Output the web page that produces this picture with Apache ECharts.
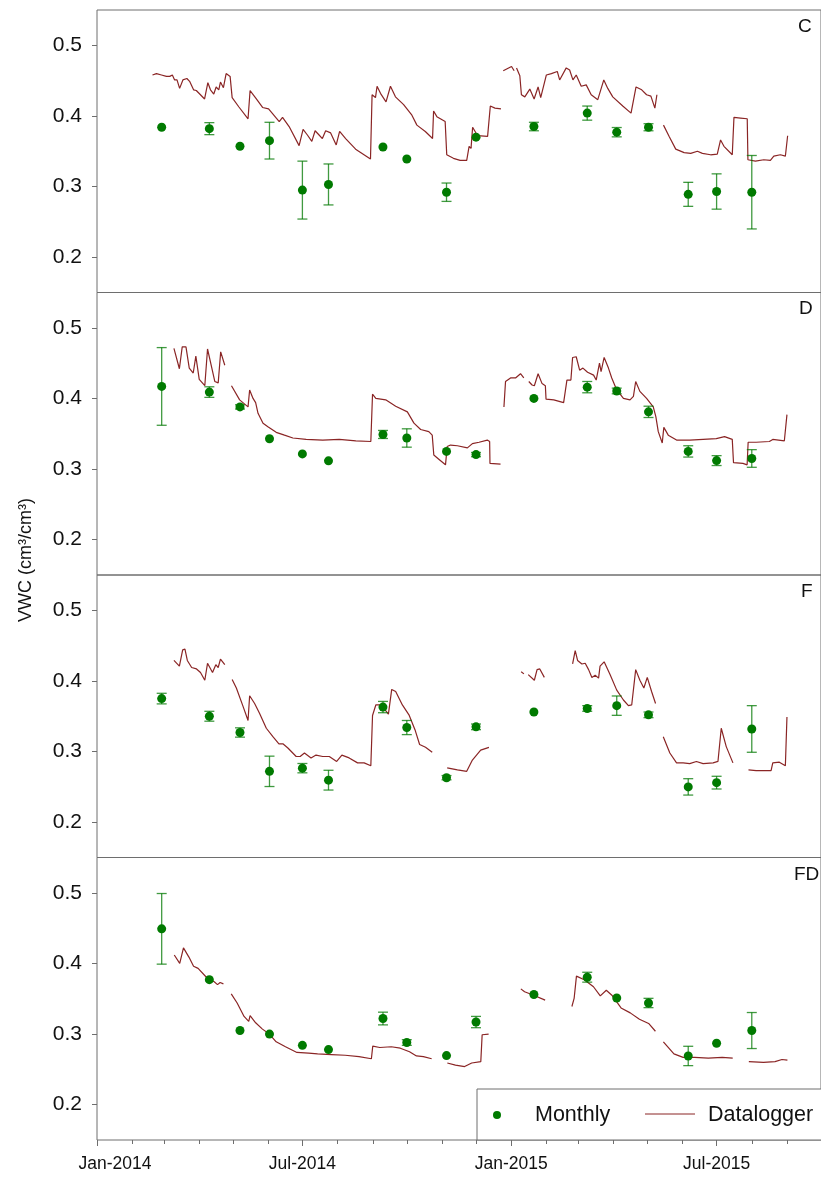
<!DOCTYPE html>
<html>
<head>
<meta charset="utf-8">
<script src="https://cdn.jsdelivr.net/npm/echarts@6/dist/echarts.min.js"></script>
<style>
  html, body { margin: 0; padding: 0; background: #fff; }
  #chart { width: 821px; height: 1182px; }
</style>
</head>
<body>
<div id="chart"></div>
<script>
// ---- Sampling dates of the monthly survey ----
const sampleDates = [
  '2014-02-27', '2014-04-10', '2014-05-07', '2014-06-02', '2014-07-01', '2014-07-24',
  '2014-09-10', '2014-10-01', '2014-11-05', '2014-12-01', '2015-01-21', '2015-03-09',
  '2015-04-04', '2015-05-02', '2015-06-06', '2015-07-01', '2015-08-01'
];

// ---- Monthly VWC means and standard errors per treatment ----
const monthlyC  = [0.384, 0.382, 0.357, 0.365, 0.295, 0.303, 0.356, 0.339, 0.292, 0.370, 0.385, 0.404, 0.377, 0.384, 0.289, 0.293, 0.292];
const errC      = [0, 0.0085, 0, 0.026, 0.041, 0.029, 0, 0, 0.013, 0, 0.006, 0.010, 0.0066, 0.005, 0.017, 0.025, 0.052];
const monthlyD  = [0.417, 0.409, 0.388, 0.343, 0.3215, 0.3116, 0.349, 0.344, 0.325, 0.3205, 0.400, 0.416, 0.4106, 0.381, 0.325, 0.312, 0.315];
const errD      = [0.055, 0.0075, 0.003, 0, 0, 0, 0.0057, 0.013, 0, 0.003, 0, 0.008, 0.004, 0.008, 0.008, 0.007, 0.0125];
const monthlyF  = [0.375, 0.350, 0.327, 0.272, 0.2765, 0.2595, 0.363, 0.334, 0.263, 0.335, 0.356, 0.361, 0.365, 0.352, 0.250, 0.256, 0.332];
const errF      = [0.0075, 0.007, 0.0066, 0.0215, 0.0066, 0.014, 0.008, 0.010, 0.003, 0.004, 0, 0.004, 0.0137, 0.004, 0.0116, 0.009, 0.033];
const monthlyFD = [0.449, 0.377, 0.305, 0.300, 0.284, 0.278, 0.322, 0.288, 0.2695, 0.317, 0.356, 0.3805, 0.351, 0.344, 0.269, 0.287, 0.305];
const errFD     = [0.050, 0, 0, 0, 0, 0, 0.009, 0.004, 0, 0.008, 0, 0.007, 0, 0.0066, 0.0137, 0, 0.0255];

// ---- Datalogger records: [day since 1 Jan 2014, VWC], one array per unbroken run ----
const loggerC = [
  [[48.9,0.458],[52.4,0.460],[56.8,0.458],[61.2,0.456],[64.1,0.456],[66.4,0.458],[68.4,0.451],[70.5,0.451],[72.8,0.439],[75.7,0.451],[79.2,0.453],[81.6,0.449],[85.1,0.437],[87.5,0.436],[94.8,0.424],[97.7,0.447],[100.0,0.437],[102.9,0.431],[105.0,0.441],[107.3,0.437],[108.8,0.448],[111.4,0.440],[113.8,0.460],[117.3,0.456],[119.1,0.426],[124.9,0.413],[133.1,0.396],[134.9,0.436],[140.1,0.425],[145.9,0.412],[151.2,0.410],[152.4,0.409],[160.6,0.392],[163.5,0.398],[169.3,0.385],[178.1,0.358],[179.6,0.358],[181.6,0.381],[185.4,0.373],[189.3,0.364],[192.2,0.379],[195.7,0.373],[198.6,0.368],[201.5,0.379],[205.9,0.376],[210.8,0.359],[213.8,0.378],[219.1,0.368],[227.9,0.353],[241.0,0.339],[242.4,0.430],[245.4,0.426],[246.8,0.442],[249.8,0.432],[254.7,0.420],[258.6,0.442],[263.0,0.427],[270.2,0.416],[277.5,0.401],[281.9,0.387],[289.3,0.378],[295.7,0.368],[296.6,0.407],[299.5,0.399],[306.8,0.392],[308.2,0.345],[314.1,0.340],[320.0,0.337],[325.8,0.337],[327.9,0.357],[329.6,0.354],[331.0,0.384],[335.4,0.372],[344.2,0.371],[346.6,0.414],[350.7,0.411],[356.0,0.410]],
  [[358.0,0.464],[365.3,0.470],[367.6,0.464]],
  [[369.7,0.468],[372.6,0.457],[374.0,0.430],[377.0,0.427],[381.4,0.438],[385.2,0.424],[388.7,0.441],[391.0,0.426],[396.0,0.458],[400.4,0.460],[405.6,0.463],[407.7,0.451],[413.5,0.468],[416.5,0.465],[419.4,0.451],[422.3,0.458],[426.7,0.442],[431.1,0.444],[435.5,0.430],[441.3,0.423],[446.6,0.451],[450.1,0.439],[454.5,0.427],[463.3,0.414],[470.6,0.404],[472.1,0.404],[475.0,0.441],[480.0,0.437],[484.3,0.430],[488.1,0.428],[491.6,0.411],[493.4,0.430]],
  [[499.2,0.387],[504.2,0.371],[510.0,0.353],[517.4,0.348],[523.2,0.347],[529.1,0.350],[533.5,0.347],[540.7,0.345],[546.6,0.346],[549.5,0.366],[552.5,0.357],[559.8,0.345],[561.3,0.398],[567.1,0.397],[573.0,0.396],[573.6,0.338],[580.2,0.336],[587.6,0.338],[593.4,0.337],[596.4,0.343],[602.2,0.345],[606.6,0.343],[608.6,0.372]]
];
const loggerD = [
  [[67.8,0.471],[72.6,0.442],[75.1,0.473],[78.4,0.473],[81.3,0.443],[84.8,0.436],[87.1,0.460],[90.1,0.427],[95.0,0.418],[97.4,0.470],[100.9,0.445],[103.8,0.424],[106.8,0.422],[109.0,0.466],[112.6,0.447]],
  [[118.5,0.418],[125.7,0.398],[133.1,0.388],[134.5,0.412],[137.5,0.400],[139.8,0.394],[141.9,0.379],[146.3,0.365],[150.6,0.360],[157.9,0.352],[165.2,0.348],[172.6,0.344],[184.3,0.342],[198.9,0.341],[213.5,0.342],[228.1,0.340],[241.3,0.339],[242.8,0.406],[245.7,0.400],[254.4,0.398],[263.2,0.389],[273.5,0.381],[279.3,0.365],[285.2,0.356],[292.4,0.353],[295.4,0.348],[296.8,0.320],[301.2,0.314],[307.1,0.306],[308.6,0.332],[311.5,0.334],[317.6,0.333],[326.4,0.330],[330.8,0.336],[336.7,0.338],[343.9,0.341],[346.0,0.339],[346.3,0.308],[355.6,0.307]],
  [[358.6,0.388],[360.0,0.424],[364.4,0.429],[368.8,0.429],[373.2,0.435],[376.1,0.429]],
  [[380.5,0.424],[383.4,0.419],[385.4,0.418],[388.7,0.435],[392.2,0.421],[395.1,0.418],[395.7,0.399],[402.5,0.398],[411.2,0.394],[414.1,0.426],[417.6,0.426],[419.1,0.458],[422.3,0.459],[425.3,0.440],[428.2,0.443],[432.3,0.437],[437.6,0.433],[439.9,0.426],[442.8,0.450],[444.2,0.438],[446.9,0.458],[450.7,0.443],[453.6,0.429],[458.0,0.412],[463.9,0.400],[469.7,0.398],[472.7,0.403],[474.7,0.424],[478.4,0.410],[484.3,0.400],[490.2,0.388],[492.5,0.374],[494.6,0.353],[498.1,0.337],[499.5,0.359],[503.4,0.348],[510.7,0.341],[522.3,0.341],[534.1,0.342],[545.7,0.343],[553.0,0.346],[559.8,0.342],[560.9,0.309],[569.2,0.308],[572.9,0.306],[573.8,0.338],[580.8,0.338],[592.5,0.339],[595.5,0.342],[605.7,0.340],[608.0,0.377]]
];
const loggerF = [
  [[67.8,0.429],[72.6,0.421],[75.5,0.444],[77.5,0.445],[79.6,0.429],[83.4,0.419],[87.7,0.417],[91.2,0.412],[95.0,0.401],[97.4,0.425],[101.8,0.412],[104.7,0.423],[106.8,0.419],[108.8,0.431],[112.6,0.423]],
  [[119.1,0.402],[122.8,0.390],[128.7,0.364],[133.1,0.344],[134.5,0.379],[138.9,0.368],[143.3,0.354],[149.2,0.333],[155.0,0.321],[160.3,0.311],[163.8,0.311],[168.2,0.305],[175.5,0.293],[179.0,0.293],[182.8,0.298],[188.6,0.291],[193.0,0.295],[198.9,0.293],[204.7,0.293],[211.2,0.286],[215.8,0.295],[222.2,0.291],[229.6,0.284],[235.4,0.284],[241.3,0.280],[242.8,0.351],[245.7,0.366],[249.2,0.366],[251.5,0.364],[256.8,0.353],[259.7,0.388],[263.2,0.385],[269.1,0.366],[274.9,0.352],[280.2,0.331],[284.3,0.310],[289.5,0.306],[295.4,0.299]],
  [[308.6,0.277],[317.6,0.274],[325.8,0.272],[330.8,0.288],[338.1,0.302],[345.4,0.306]],
  [[373.8,0.413],[376.2,0.410]],
  [[380.0,0.409],[385.4,0.401],[387.8,0.416],[390.2,0.417],[394.2,0.405]],
  [[419.1,0.424],[421.4,0.443],[423.5,0.429],[427.3,0.424],[430.2,0.425],[433.2,0.416],[436.1,0.405],[439.0,0.408],[442.0,0.404],[443.3,0.421],[446.9,0.427],[452.1,0.409],[458.0,0.387],[463.9,0.373],[468.3,0.365],[471.2,0.366],[474.7,0.416],[478.4,0.401],[481.9,0.390],[484.9,0.405],[488.7,0.385],[492.2,0.368]],
  [[499.0,0.321],[504.8,0.298],[510.7,0.284],[516.5,0.284],[522.3,0.283],[528.2,0.286],[534.1,0.283],[542.9,0.284],[547.2,0.286],[550.1,0.333],[554.5,0.307],[560.4,0.284]],
  [[574.1,0.274],[580.8,0.273],[594.0,0.273],[595.5,0.284],[601.3,0.285],[606.6,0.280],[608.0,0.349]]
];
const loggerFD = [
  [[68.1,0.412],[72.9,0.400],[76.2,0.422],[77.7,0.422],[81.0,0.409],[85.1,0.396],[89.1,0.393],[97.2,0.379],[103.3,0.374],[106.2,0.370],[108.5,0.373],[111.4,0.371]],
  [[118.3,0.357],[123.5,0.344],[129.6,0.325],[133.7,0.318],[134.9,0.326],[139.8,0.316],[145.8,0.307],[151.9,0.300],[157.9,0.289],[166.1,0.282],[176.2,0.274],[186.4,0.273],[194.4,0.272],[206.6,0.271],[218.7,0.270],[230.9,0.268],[241.8,0.265],[243.0,0.283],[249.2,0.281],[259.3,0.282],[267.3,0.280],[275.4,0.275],[281.5,0.269],[287.6,0.268],[294.9,0.265]],
  [[308.7,0.259],[315.9,0.256],[324.0,0.254],[330.2,0.259],[338.2,0.261],[339.4,0.299],[345.1,0.300]],
  [[373.5,0.364],[376.8,0.360],[384.8,0.355],[394.9,0.348]],
  [[418.5,0.339],[420.5,0.351],[422.5,0.382],[429.4,0.377],[437.5,0.367],[443.5,0.354],[448.8,0.362],[453.7,0.355],[461.8,0.337],[469.9,0.330],[478.0,0.321],[486.1,0.315],[492.1,0.304]],
  [[499.1,0.289],[508.4,0.272],[516.5,0.267],[526.6,0.267],[538.7,0.266],[550.9,0.267],[560.2,0.266]],
  [[574.4,0.261],[587.3,0.260],[597.5,0.261],[603.6,0.264],[608.4,0.263]]
];

// ---- Axis labels ----
const panelNames = ['C', 'D', 'F', 'FD'];
const tickDates  = ['2014-01-01', '2014-07-01', '2015-01-01', '2015-07-01'];
const tickLabels = ['Jan-2014', 'Jul-2014', 'Jan-2015', 'Jul-2015'];
const axisStart = '2014-01-01';
const axisEnd   = '2015-10-01';
const yTicks = [0.2, 0.3, 0.4, 0.5];

// ---- Helpers ----
const DAY = 86400000;
function dayOf(s) {
  const [y, m, d] = s.split('-').map(Number);
  return Math.round((Date.UTC(y, m - 1, d) - Date.UTC(2014, 0, 1)) / DAY);
}
const xMin = dayOf(axisStart), xMax = dayOf(axisEnd);
const tickDays = tickDates.map(dayOf);
const monthDays = [];
for (let y = 2014, m = 0; Date.UTC(y, m, 1) <= Date.UTC(2015, 9, 1); m++) {
  if (m === 12) { m = 0; y++; }
  monthDays.push((Date.UTC(y, m, 1) - Date.UTC(2014, 0, 1)) / DAY);
}
// join unbroken runs, leaving a gap between them
function joinRuns(runs) {
  const out = [];
  runs.forEach((run, i) => {
    if (i > 0) out.push([run[0][0], '-']);
    run.forEach(p => out.push(p));
  });
  return out;
}

const FONT = 'Liberation Sans, Arial, sans-serif';
const AXIS_GRAY = '#6e6e6e';
const LOGGER_RED = '#8a2525';
const DOT_GREEN = '#007a00';
const BAR_GREEN = 'rgba(0,120,0,0.75)';

const monthly = [monthlyC, monthlyD, monthlyF, monthlyFD];
const errors  = [errC, errD, errF, errFD];
const loggers = [loggerC, loggerD, loggerF, loggerFD];

const PANEL_TOP = 10, PANEL_H = 282.5, PLOT_LEFT = 97, PLOT_W = 727;

const grids = [], xAxes = [], yAxes = [], series = [];
for (let k = 0; k < 4; k++) {
  grids.push({
    left: PLOT_LEFT, top: PANEL_TOP + PANEL_H * k, width: PLOT_W, height: PANEL_H,
    show: true, borderColor: AXIS_GRAY, borderWidth: 1, backgroundColor: 'transparent'
  });
  const bottom = k === 3;
  xAxes.push({
    type: 'value', gridIndex: k, min: xMin, max: xMax, show: bottom, position: 'bottom',
    axisLine: { show: false }, splitLine: { show: false },
    axisTick: { show: bottom, customValues: tickDays, length: 6, lineStyle: { color: AXIS_GRAY } },
    axisLabel: {
      show: bottom, customValues: tickDays, margin: 15,
      fontSize: 17.5, color: '#111', fontFamily: FONT,
      formatter: v => {
        const i = tickDays.indexOf(v);
        if (i < 0) return '';
        return i === 0 ? '{first|' + tickLabels[i] + '}' : tickLabels[i];
      },
      rich: { first: { padding: [0, 0, 0, 36], fontSize: 17.5, color: '#111', fontFamily: FONT } }
    }
  });
  yAxes.push({
    type: 'value', gridIndex: k, min: 0.15, max: 0.55,
    axisLine: { show: false }, splitLine: { show: false },
    axisTick: { show: true, customValues: yTicks, length: 5, lineStyle: { color: AXIS_GRAY } },
    axisLabel: {
      customValues: yTicks, formatter: v => v.toFixed(1),
      fontSize: 21, color: '#111', fontFamily: FONT, margin: 15
    }
  });

  series.push({
    type: 'line', name: 'Datalogger', xAxisIndex: k, yAxisIndex: k,
    data: joinRuns(loggers[k]), symbol: 'none', showSymbol: false, connectNulls: false,
    lineStyle: { color: LOGGER_RED, width: 1.2 }, z: 2, silent: true
  });
  const bars = [];
  sampleDates.forEach((d, i) => {
    const e = errors[k][i];
    if (e > 0) bars.push([dayOf(d), monthly[k][i] - e, monthly[k][i] + e]);
  });
  series.push({
    type: 'custom', xAxisIndex: k, yAxisIndex: k, data: bars, z: 3, silent: true,
    encode: { x: 0, y: [1, 2] },
    renderItem: (params, api) => {
      const lo = api.coord([api.value(0), api.value(1)]);
      const hi = api.coord([api.value(0), api.value(2)]);
      const half = 5;
      const style = { stroke: BAR_GREEN, lineWidth: 1.3, fill: null };
      return {
        type: 'group', children: [
          { type: 'line', shape: { x1: lo[0], y1: hi[1], x2: lo[0], y2: lo[1] }, style },
          { type: 'line', shape: { x1: lo[0] - half, y1: hi[1], x2: lo[0] + half, y2: hi[1] }, style },
          { type: 'line', shape: { x1: lo[0] - half, y1: lo[1], x2: lo[0] + half, y2: lo[1] }, style }
        ]
      };
    }
  });
  series.push({
    type: 'scatter', name: 'Monthly', xAxisIndex: k, yAxisIndex: k,
    data: sampleDates.map((d, i) => [dayOf(d), monthly[k][i]]),
    symbol: 'circle', symbolSize: 9, itemStyle: { color: DOT_GREEN, opacity: 1 }, z: 4, silent: true
  });
}
// monthly minor ticks along the shared time axis
xAxes.push({
  type: 'value', gridIndex: 3, min: xMin, max: xMax, position: 'bottom',
  axisLine: { show: false }, splitLine: { show: false }, axisLabel: { show: false },
  axisTick: { show: true, customValues: monthDays, length: 4, lineStyle: { color: AXIS_GRAY } }
});

// panel letters
const letterPos = [[798, 27], [799, 309], [801, 592], [794, 875]];
const graphics = panelNames.map((n, k) => ({
  type: 'text', x: letterPos[k][0], y: letterPos[k][1],
  style: { text: n, fontSize: 19, fill: '#111', fontFamily: FONT, align: 'left', verticalAlign: 'middle' }
}));
// y-axis title
graphics.push({
  type: 'text', x: 26, y: 560, rotation: Math.PI / 2,
  style: { text: 'VWC (cm³/cm³)', fontSize: 18, fill: '#111', fontFamily: FONT, align: 'center', verticalAlign: 'middle' }
});
// legend box
graphics.push({
  type: 'group', children: [
    { type: 'rect', shape: { x: 477, y: 1089, width: 360, height: 51 }, style: { fill: '#fff', stroke: AXIS_GRAY, lineWidth: 1 }, z: 10 },
    { type: 'circle', shape: { cx: 497, cy: 1115, r: 4 }, style: { fill: DOT_GREEN }, z: 11 },
    { type: 'text', x: 535, y: 1115, style: { text: 'Monthly', fontSize: 21.5, fill: '#111', fontFamily: FONT, verticalAlign: 'middle' }, z: 11 },
    { type: 'line', shape: { x1: 645, y1: 1114, x2: 695, y2: 1114 }, style: { stroke: LOGGER_RED, lineWidth: 1 }, z: 11 },
    { type: 'text', x: 708, y: 1115, style: { text: 'Datalogger', fontSize: 21.5, fill: '#111', fontFamily: FONT, verticalAlign: 'middle' }, z: 11 }
  ]
});

const chart = echarts.init(document.getElementById('chart'), null, { renderer: 'canvas' });
chart.setOption({
  animation: false,
  backgroundColor: '#fff',
  textStyle: { fontFamily: FONT },
  grid: grids, xAxis: xAxes, yAxis: yAxes, series,
  graphic: graphics
});
</script>
</body>
</html>
